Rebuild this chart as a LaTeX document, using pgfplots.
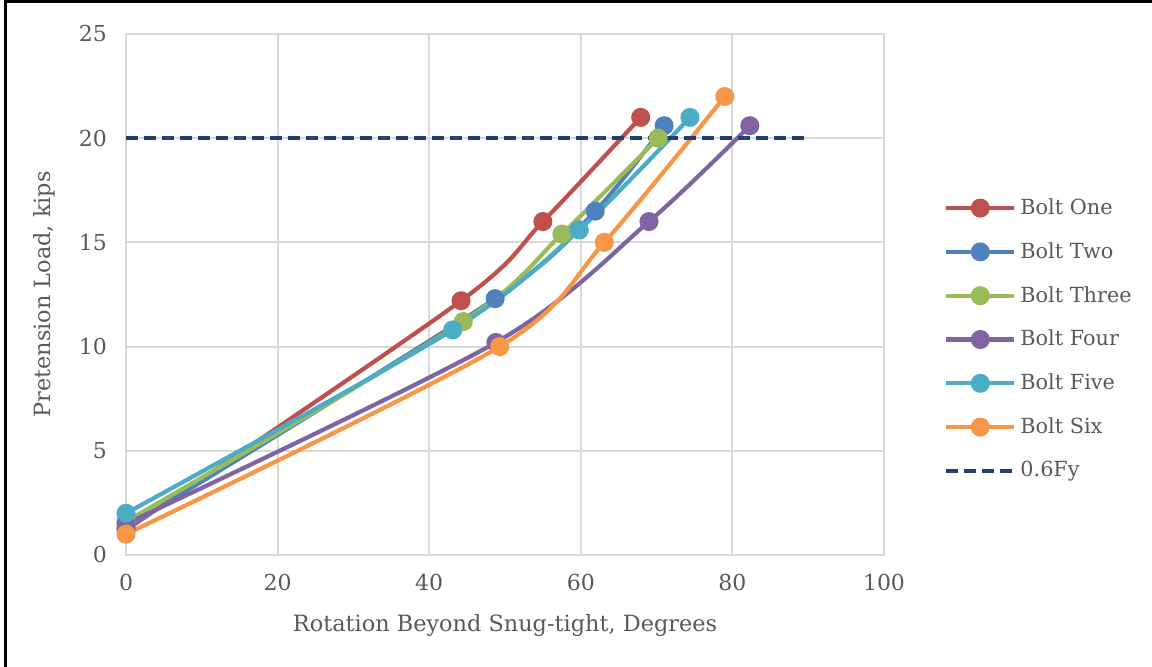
\documentclass[border=0pt]{standalone}
\usepackage{pgfplots}
\pgfplotsset{compat=1.18}
\usepackage{fontspec}
\setmainfont{DejaVu Serif}
\definecolor{txt}{HTML}{595959}
\definecolor{gridc}{HTML}{D9D9D9}
\definecolor{c1}{HTML}{C0504D}
\definecolor{c2}{HTML}{4F81BD}
\definecolor{c3}{HTML}{9BBB59}
\definecolor{c4}{HTML}{8064A2}
\definecolor{c5}{HTML}{4BACC6}
\definecolor{c6}{HTML}{F79646}
\definecolor{c7}{HTML}{243F6B}
\begin{document}
\begin{tikzpicture}
\useasboundingbox (0pt,0pt) rectangle (576pt,333.5pt);
\draw[black,line width=1.2pt] (2.8pt,0pt) -- (2.8pt,332.8pt) -- (576pt,332.8pt);
\begin{axis}[
  at={(63pt,56pt)}, anchor=south west,
  scale only axis, width=379pt, height=260.5pt,
  xmin=0, xmax=100, ymin=0, ymax=25,
  xtick={0,20,...,100}, ytick={0,5,...,25},
  grid=major, major grid style={gridc, line width=1pt},
  axis line style={gridc, line width=1pt},
  tick style={draw=none},
  ticklabel style={font=\fontsize{11}{13}\selectfont, text=txt},
  xticklabel style={yshift=-6pt},
  yticklabel style={xshift=-6pt},
  /pgf/number format/assume math mode=true,
  xlabel={Rotation Beyond Snug-tight, Degrees},
  ylabel={Pretension Load, kips},
  label style={font=\fontsize{11.2}{13}\selectfont, text=txt},
  xlabel style={yshift=-5pt},
  ylabel style={yshift=5pt},
  every axis plot/.append style={line width=2.1pt, smooth, tension=0.5, mark=*, mark size=3.7pt, mark options={solid}},
  legend style={at={(1.071,0.70)}, anchor=north west, draw=none, fill=none,
    font=\fontsize{10.4}{12}\selectfont, text=txt, row sep=8.5pt},
  legend cell align=left,
  legend image code/.code={\draw[mark repeat=2, mark phase=2, #1] plot coordinates {(0pt,0pt) (17pt,0pt) (34pt,0pt)};},
]
\addplot[c1, mark options={fill=c1, draw=c1}] coordinates {(0,1.2) (44.2,12.2) (55.0,16.0) (67.9,21.0)};
\addlegendentry{Bolt One}
\addplot[c2, mark options={fill=c2, draw=c2}] coordinates {(0,1.3) (48.7,12.3) (61.9,16.5) (71.0,20.6)};
\addlegendentry{Bolt Two}
\addplot[c3, mark options={fill=c3, draw=c3}] coordinates {(0,1.6) (44.5,11.2) (57.5,15.4) (70.2,20.0)};
\addlegendentry{Bolt Three}
\addplot[c4, mark options={fill=c4, draw=c4}] coordinates {(0,1.5) (48.8,10.2) (69.0,16.0) (82.3,20.6)};
\addlegendentry{Bolt Four}
\addplot[c5, mark options={fill=c5, draw=c5}] coordinates {(0,2.0) (43.1,10.8) (59.8,15.6) (74.4,21.0)};
\addlegendentry{Bolt Five}
\addplot[c6, mark options={fill=c6, draw=c6}] coordinates {(0,1.0) (49.3,10.0) (63.1,15.0) (79.0,22.0)};
\addlegendentry{Bolt Six}
\addplot[c7, mark=none, sharp plot, dash pattern=on 6pt off 3pt] coordinates {(0,20) (90,20)};
\addlegendentry{0.6Fy}
\end{axis}
\end{tikzpicture}
\end{document}
